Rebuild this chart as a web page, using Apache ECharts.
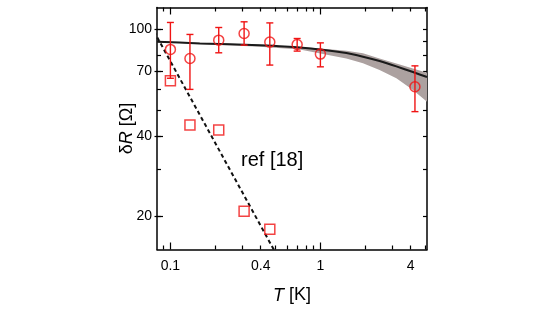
<!DOCTYPE html>
<html><head><meta charset="utf-8">
<script src="https://cdn.jsdelivr.net/npm/echarts@6/dist/echarts.min.js"></script>
<style>html,body{margin:0;padding:0;background:#fff}#c{width:545px;height:314px}</style>
</head><body><div id="c"></div>
<script>
// ---- data ----
const temps      = [0.1, 0.135, 0.21, 0.31, 0.46, 0.70, 1.0, 4.27];
const circleR    = [84.2, 77.9, 91.2, 96.6, 89.7, 87.9, 80.9, 61.1];
const circleLow  = [65.7, 59.7, 81.8, 87.4, 73.6, 83.0, 72.5, 49.3];
const circleHigh = [106.2, 95.8, 101.7, 106.8, 105.8, 92.5, 89.1, 73.1];
const refT = [0.1, 0.135, 0.21, 0.31, 0.46];
const refR = [64.3, 43.9, 42.1, 20.9, 17.9];
const guideT = [0.07, 0.6];
const guideR = [109.4, 12.2];
const fitT     = [0.0814, 0.157, 0.394, 0.728, 1.49, 1.923, 2.48, 3.21, 4.14, 5.138];
const fitR     = [90.0, 88.7, 87.2, 85.6, 81.6, 79.1, 76.2, 72.8, 69.3, 66.4];
const bandUp   = [90.4, 89.1, 87.6, 86.1, 83.2, 81.4, 77.9, 74.6, 71.5, 68.9];
const bandLow  = [89.6, 88.3, 86.1, 84.1, 77.9, 74.7, 70.5, 65.7, 59.4, 53.7];
const xMinorTicks = [0.09, 0.2, 0.3, 0.4, 0.5, 0.6, 0.7, 0.8, 0.9, 2, 3, 4, 5];
const xMajorTicks = [0.1, 1];
const xTickLabels = [0.1, 0.4, 1, 4];
const yTicks      = [20, 30, 40, 50, 60, 70, 80, 90, 100];
const yTickLabels = [20, 40, 70, 100];
const refLabel = 'ref [18]';

const X_MIN = 0.0814, X_MAX = 5.138, Y_MIN = 15.05, Y_MAX = 120.8;
const FONT = 'Liberation Sans, Arial, Helvetica, sans-serif';
const RED = '#f01414';
const lineStyle = { color: '#000', width: 1.5 };

function xAxis(pos, ticks, len, showLine, labels) {
  return {
    type: 'log', logBase: 10, min: X_MIN, max: X_MAX, position: pos, gridIndex: 0,
    axisLine: { show: showLine, lineStyle },
    axisTick: { show: true, inside: true, length: len, customValues: ticks, lineStyle: { color: '#000', width: 1.2 } },
    axisLabel: labels ? { show: true, customValues: labels, margin: 10, fontSize: 14, color: '#000', fontFamily: FONT,
      formatter: v => String(+(+v).toPrecision(3)) } : { show: false },
    splitLine: { show: false }, minorTick: { show: false }
  };
}
function yAxis(pos, ticks, len, inside, showLine, labels, extra) {
  return Object.assign({
    type: 'log', logBase: 10, min: Y_MIN, max: Y_MAX, position: pos, gridIndex: 0,
    axisLine: { show: showLine, lineStyle },
    axisTick: { show: true, inside: inside, length: len, customValues: ticks, lineStyle: { color: '#000', width: 1.2 } },
    axisLabel: labels ? { show: true, customValues: labels, margin: 5, fontSize: 14, color: '#000', fontFamily: FONT,
      formatter: v => String(Math.round(+v)) } : { show: false },
    splitLine: { show: false }
  }, extra || {});
}

const chart = echarts.init(document.getElementById('c'), null, { renderer: 'canvas' });
const option = {
  animation: false,
  backgroundColor: '#fff',
  grid: { left: 157, top: 7.5, width: 270, height: 242, containLabel: false },
  xAxis: [
    Object.assign(xAxis('bottom', xMinorTicks, 4, true, xTickLabels), {
      name: '{i|T} [K]', nameLocation: 'middle', nameGap: 37, nameMoveOverlap: false,
      nameTextStyle: { fontSize: 18, fontFamily: FONT, color: '#000',
        rich: { i: { fontStyle: 'italic', fontSize: 18, fontFamily: FONT } } }
    }),
    xAxis('bottom', xMajorTicks, 7, false, null),
    xAxis('top', xMinorTicks, 4, true, null),
    xAxis('top', xMajorTicks, 7, false, null)
  ],
  yAxis: [
    yAxis('left', yTicks, 4, true, true, yTickLabels, {
      name: '{n|δ}{i|R} [Ω]', nameLocation: 'middle', nameGap: 21, nameRotate: 90, nameMoveOverlap: false,
      nameTextStyle: { fontSize: 18, fontFamily: FONT, color: '#000',
        rich: { n: { fontSize: 18, fontFamily: FONT }, i: { fontStyle: 'italic', fontSize: 18, fontFamily: FONT } } }
    }),
    yAxis('left', yTickLabels, 6, true, false, null),
    yAxis('left', yTickLabels, 2.5, false, false, null),
    yAxis('right', yTicks, 4, true, true, null)
  ],
  graphic: [{
    type: 'text', left: 241, top: 150,
    style: { text: refLabel, font: '20px ' + FONT, fill: '#000' }
  }],
  series: [
    {
      type: 'custom', name: 'band', xAxisIndex: 0, yAxisIndex: 0, clip: true, silent: true, z: 1,
      data: [[fitT[0], fitR[0]]],
      renderItem: function (params, api) {
        const pts = [];
        for (let i = 0; i < fitT.length; i++) pts.push(api.coord([fitT[i], bandUp[i]]));
        for (let i = fitT.length - 1; i >= 0; i--) pts.push(api.coord([fitT[i], bandLow[i]]));
        return { type: 'polygon', shape: { points: pts }, style: { fill: '#aca1a0' } };
      }
    },
    {
      type: 'line', name: 'fit', xAxisIndex: 0, yAxisIndex: 0, z: 3, symbol: 'none', smooth: 0.2, clip: true,
      data: fitT.map((t, i) => [t, fitR[i]]),
      lineStyle: { color: '#1a1a1a', width: 2 }
    },
    {
      type: 'line', name: 'guide', xAxisIndex: 0, yAxisIndex: 0, z: 3, symbol: 'none', clip: true,
      data: guideT.map((t, i) => [t, guideR[i]]),
      lineStyle: { color: '#111', width: 2, type: [4, 3] }
    },
    {
      type: 'custom', name: 'errors', xAxisIndex: 0, yAxisIndex: 0, z: 4, silent: true,
      data: temps.map((t, i) => [t, circleLow[i], circleHigh[i]]),
      encode: { x: 0, y: [1, 2] },
      renderItem: function (params, api) {
        const x = api.value(0);
        const lo = api.coord([x, api.value(1)]);
        const hi = api.coord([x, api.value(2)]);
        const w = 3.5;
        const st = { stroke: RED, lineWidth: 1.4, fill: null };
        return { type: 'group', children: [
          { type: 'line', shape: { x1: lo[0], y1: lo[1], x2: hi[0], y2: hi[1] }, style: st },
          { type: 'line', shape: { x1: lo[0] - w, y1: lo[1], x2: lo[0] + w, y2: lo[1] }, style: st },
          { type: 'line', shape: { x1: hi[0] - w, y1: hi[1], x2: hi[0] + w, y2: hi[1] }, style: st }
        ] };
      }
    },
    {
      type: 'scatter', name: 'circles', xAxisIndex: 0, yAxisIndex: 0, z: 5, symbol: 'circle', symbolSize: 10,
      data: temps.map((t, i) => [t, circleR[i]]),
      itemStyle: { color: 'rgba(0,0,0,0)', borderColor: RED, borderWidth: 1.5 }
    },
    {
      type: 'scatter', name: 'squares', xAxisIndex: 0, yAxisIndex: 0, z: 5, symbol: 'rect', symbolSize: 10,
      data: refT.map((t, i) => [t, refR[i]]),
      itemStyle: { color: 'rgba(0,0,0,0)', borderColor: RED, borderWidth: 1.5 }
    }
  ]
};
chart.setOption(option);
</script>
</body></html>
